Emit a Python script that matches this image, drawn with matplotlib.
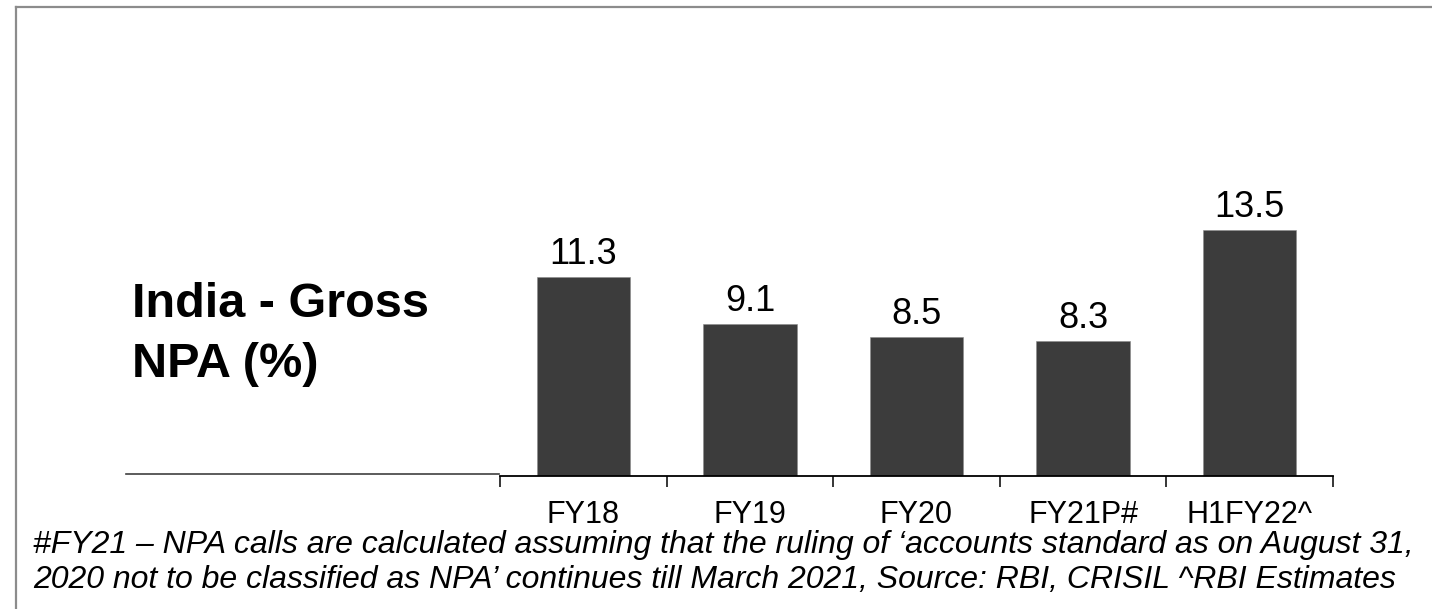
import matplotlib
matplotlib.use("Agg")
import matplotlib.pyplot as plt
from matplotlib.lines import Line2D
import numpy as np

categories = ["FY18", "FY19", "FY20", "FY21P#", "H1FY22^"]
values = [11.3, 9.1, 8.5, 8.3, 13.5]
value_labels = ["11.3", "9.1", "8.5", "8.3", "13.5"]
title_line1 = "India - Gross"
title_line2 = "NPA (%)"
footnote1 = "#FY21 \u2013 NPA calls are calculated assuming that the ruling of \u2018accounts standard as on August 31,"
footnote2 = "2020 not to be classified as NPA\u2019 continues till March 2021, Source: RBI, CRISIL ^RBI Estimates"

plt.rcParams['font.family'] = ['Liberation Sans', 'DejaVu Sans']

W, H = 1432, 609
fig = plt.figure(figsize=(W / 100, H / 100), dpi=100)

# axes placement (pixels -> figure fraction)
ax_left, ax_right = 500, 1333
ax_base = 476
ymin, ymax = 2.0, 15.0
px_per_unit = 21.4
ax_h = (ymax - ymin) * px_per_unit
ax = fig.add_axes([ax_left / W, (H - ax_base) / H, (ax_right - ax_left) / W, ax_h / H])

x = np.arange(len(categories))
bars = ax.bar(x, values, width=0.56, color="#3c3c3c", edgecolor="#8a8a8a", linewidth=0.4)
ax.set_xlim(-0.5, len(categories) - 0.5)
ax.set_ylim(ymin, ymax)

for xi, v, lab in zip(x, values, value_labels):
    ax.annotate(lab, (xi, v), xytext=(0, 3.5), textcoords="offset points",
                ha="center", va="bottom", fontsize=26, color="black")

for s in ["top", "right", "left"]:
    ax.spines[s].set_visible(False)
ax.spines["bottom"].set_linewidth(1.3)
ax.spines["bottom"].set_color("black")
ax.set_yticks([])

ax.set_xticks(np.arange(-0.5, len(categories), 1.0))
ax.set_xticklabels([])
ax.tick_params(axis="x", which="major", direction="out", length=8, width=1.1, color="black")
ax.set_xticks(x, minor=True)
ax.set_xticklabels(categories, minor=True, fontsize=22)
ax.tick_params(axis="x", which="minor", length=0, pad=17)

# title text on left
fig.text(132 / W, 1 - 317 / H, title_line1, fontsize=35, fontweight="bold",
         ha="left", va="baseline")
fig.text(132 / W, 1 - 377 / H, title_line2, fontsize=35, fontweight="bold",
         ha="left", va="baseline")

# left horizontal rule
fig.add_artist(Line2D([126 / W, 499 / W], [1 - 474 / H, 1 - 474 / H],
                      color="#404040", linewidth=1.2))

# footnote
fig.text(33 / W, 1 - 553 / H, footnote1, fontsize=23, style="italic",
         ha="left", va="baseline")
fig.text(33 / W, 1 - 588 / H, footnote2, fontsize=23, style="italic",
         ha="left", va="baseline")

# frame border (left and top)
fig.add_artist(Line2D([16 / W, 16 / W], [0, 1 - 7 / H], color="#8c8c8c", linewidth=1.6))
fig.add_artist(Line2D([16 / W, 1], [1 - 7 / H, 1 - 7 / H], color="#8c8c8c", linewidth=1.6))

fig.savefig("out.png", dpi=100)
